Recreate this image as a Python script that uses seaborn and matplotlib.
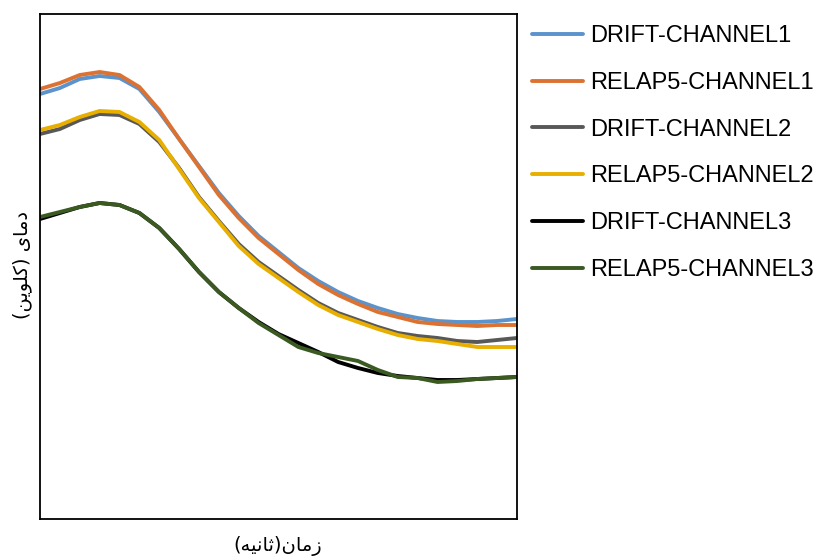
import matplotlib
matplotlib.use("Agg")
import matplotlib.pyplot as plt
import seaborn as sns
import pandas as pd
from matplotlib.lines import Line2D

# ---- data ----
time_s = [0, 2, 4, 6, 8, 10, 12, 14, 16, 18, 20, 22, 24, 26, 28, 30, 32, 34, 36, 38, 40, 42, 44, 46, 48]

drift_ch1 = [525, 531, 540, 543, 541, 530, 507, 480, 453, 426, 403, 383, 367, 351, 338, 327, 318, 311, 305, 301, 298, 297, 297, 298, 300]
relap5_ch1 = [530, 536, 544, 547, 544, 532, 509, 480, 452, 424, 401, 381, 365, 349, 335, 324, 315, 307, 302, 297, 295, 294, 293, 294, 294]
drift_ch2 = [485, 490, 499, 505, 504, 495, 477, 451, 422, 398, 375, 357, 343, 329, 316, 306, 299, 292, 286, 283, 281, 278, 277, 279, 281]
relap5_ch2 = [489, 494, 502, 508, 507, 497, 479, 450, 421, 397, 373, 355, 341, 327, 314, 304, 297, 290, 284, 280, 278, 275, 272, 272, 272]
drift_ch3 = [400, 406, 412, 416, 414, 406, 391, 370, 347, 327, 311, 297, 285, 276, 267, 257, 251, 246, 243, 241, 239, 239, 240, 241, 242]
relap5_ch3 = [402, 407, 412, 416, 414, 406, 391, 370, 347, 327, 311, 296, 284, 272, 266, 262, 258, 249, 242, 241, 237, 238, 240, 241, 242]

series_names = ["DRIFT-CHANNEL1", "RELAP5-CHANNEL1", "DRIFT-CHANNEL2",
                "RELAP5-CHANNEL2", "DRIFT-CHANNEL3", "RELAP5-CHANNEL3"]
series_values = [drift_ch1, relap5_ch1, drift_ch2, relap5_ch2, drift_ch3, relap5_ch3]
series_colors = ["#5B93CC", "#DC7232", "#585858", "#E8AE00", "#000000", "#3A5A22"]

# Persian labels (visual order, presentation forms for shaping)
# x label: "زمان(ثانیه)"
zaman = "\uFEE5\uFE8E\uFEE3\uFEAF"
sanieh = "\uFEEA\uFEF4\uFEE7\uFE8E\uFE9B"
x_label = "(" + sanieh + ")" + zaman
# y label: "دمای (کلوین)"
damay = "\uFEEF\uFE8E\uFEE3\uFEA9"
kelvin = "\uFEE6\uFEF3\uFEEE\uFEE0\uFEDB"
y_label = "(" + kelvin + ")" + " " + damay

rows = []
for name, vals in zip(series_names, series_values):
    for t, v in zip(time_s, vals):
        rows.append({"time": t, "temp": v, "series": name})
df = pd.DataFrame(rows)

sns.set_style("white")
plt.rcParams["font.family"] = ["Liberation Sans", "DejaVu Sans"]
plt.rcParams["text.color"] = "black"

fig = plt.figure(figsize=(8.22, 5.6), dpi=100)
ax = fig.add_axes([40 / 822, 1 - 519 / 560, 477 / 822, 505 / 560])

sns.lineplot(data=df, x="time", y="temp", hue="series", hue_order=series_names,
             palette=dict(zip(series_names, series_colors)), linewidth=2.8,
             ax=ax, legend=False, sort=False)
for ln in ax.lines:
    ln.set_solid_joinstyle("round")
    ln.set_solid_capstyle("butt")

ax.set_xlim(0, 48)
ax.set_ylim(100, 605)
ax.set_xticks([])
ax.set_yticks([])
ax.set_xlabel("")
ax.set_ylabel("")
for sp in ax.spines.values():
    sp.set_visible(True)
    sp.set_color("black")
    sp.set_linewidth(1.3)

handles = [Line2D([0], [0], color=c, lw=2.8) for c in series_colors]
leg = fig.legend(handles, series_names, loc="upper left",
                 bbox_to_anchor=(532 / 822, 1 - 25 / 560), frameon=False,
                 fontsize=17, handlelength=2.15, handletextpad=0.3,
                 labelspacing=1.05, borderpad=0, borderaxespad=0)
for txt in leg.get_texts():
    txt.set_color("black")

fig.text(278 / 822, 1 - 546 / 560, x_label, ha="center", va="center",
         fontsize=14, family=["DejaVu Sans"], color="black")
fig.text(22 / 822, 1 - 265 / 560, y_label, ha="center", va="center",
         rotation=90, fontsize=14, family=["DejaVu Sans"], color="black")

fig.savefig("out.png", dpi=100)
